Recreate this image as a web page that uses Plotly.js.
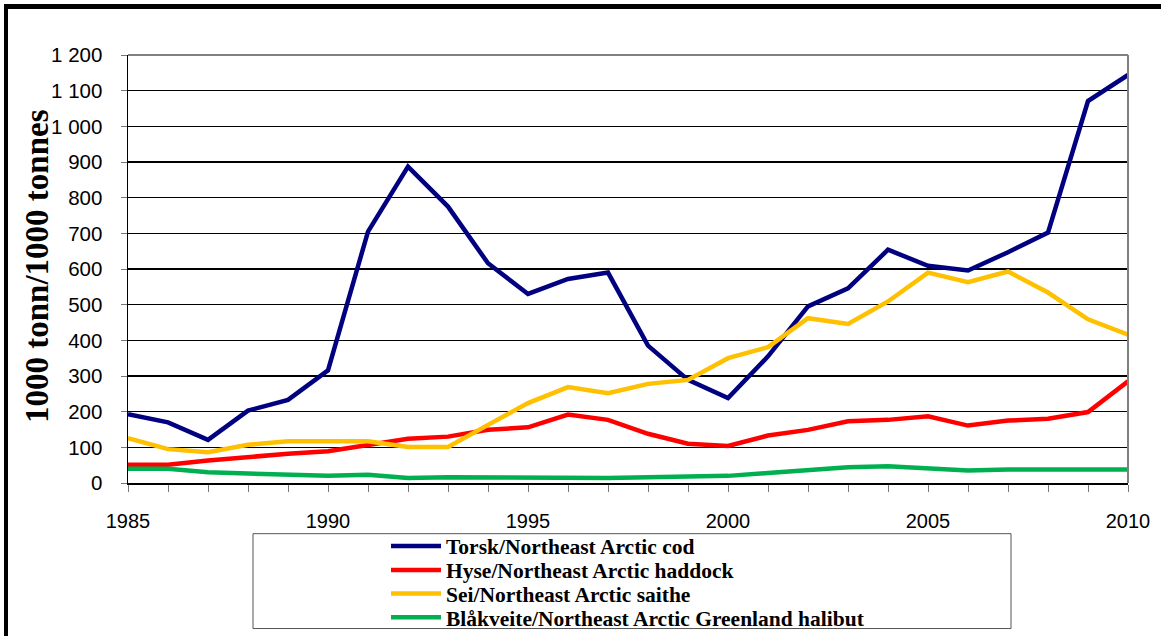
<!DOCTYPE html>
<html>
<head>
<meta charset="utf-8">
<script src="https://cdn.plot.ly/plotly-3.0.1.min.js"></script>
<style>
html,body{margin:0;padding:0;background:#fff;}
#chart{width:1161px;height:636px;}
</style>
</head>
<body>
<div id="chart"></div>
<script>
const years = [1985,1986,1987,1988,1989,1990,1991,1992,1993,1994,1995,1996,1997,1998,1999,2000,2001,2002,2003,2004,2005,2006,2007,2008,2009,2010];
const cod = [193,170,121,203,233,316,705,887,775,616,530,572,590,385,289,238,355,495,546,654,609,596,647,702,1071,1144];
const haddock = [51,51,63,73,82,89,107,124,130,149,156,192,177,138,110,104,133,149,173,177,187,161,175,180,199,285];
const saithe = [126,95,86,107,117,117,117,101,101,163,224,269,252,278,289,350,381,462,446,509,590,563,593,534,459,416];
const halibut = [40,40,30,27,23,20,23,14,16,15,14,14,14,16,17,20,28,37,44,47,42,35,38,38,38,38];
const seriesNames = [
  'Torsk/Northeast Arctic cod',
  'Hyse/Northeast Arctic haddock',
  'Sei/Northeast Arctic saithe',
  'Blåkveite/Northeast Arctic Greenland halibut'
];
const seriesColors = ['#000080','#FF0000','#FFC000','#00B050'];
const yTitle = '1000 tonn/1000 tonnes';

const allSeries = [cod, haddock, saithe, halibut];
const legendIds = ['legend','legend2','legend3','legend4'];
const traces = allSeries.map((vals, i) => ({
  x: years, y: vals, type: 'scatter', mode: 'lines', name: seriesNames[i],
  line: {color: seriesColors[i], width: 4.5},
  legend: legendIds[i], hoverinfo: 'x+y'
}));

// legend rows in container coordinates (fraction of 636 px height, from bottom)
const legendRowY = [1 - 546/636, 1 - 570/636, 1 - 593.5/636, 1 - 617.3/636];
const legendFont = {family: '"Liberation Serif", "Times New Roman", serif', size: 21.5, color: '#000', weight: 'bold'};
function mkLegend(i){
  return {xref: 'container', yref: 'container', x: 386/1161, y: legendRowY[i], xanchor: 'left', yanchor: 'middle',
    bgcolor: 'rgba(0,0,0,0)', borderwidth: 0, font: legendFont, itemwidth: 50, tracegroupgap: 0};
}

const layout = {
  width: 1161, height: 636,
  margin: {l: 128, r: 33, t: 55, b: 152.7, autoexpand: false},
  paper_bgcolor: '#fff', plot_bgcolor: '#fff',
  separators: ', ',
  showlegend: true,
  legend: mkLegend(0), legend2: mkLegend(1), legend3: mkLegend(2), legend4: mkLegend(3),
  xaxis: {
    range: [1985, 2010], tick0: 1985, dtick: 5, showgrid: false, zeroline: false,
    showline: true, linecolor: '#000', linewidth: 1.5,
    ticks: 'outside', ticklen: 7, tickcolor: '#777', tickwidth: 1,
    minor: {dtick: 1, ticks: 'outside', ticklen: 7, tickcolor: '#777', tickwidth: 1, showgrid: false},
    ticklabelstandoff: 12,
    tickfont: {family: '"Liberation Sans", Arial, sans-serif', size: 20, color: '#000'}
  },
  yaxis: {
    range: [0, 1200], dtick: 100, tick0: 0, separatethousands: true, tickformat: ',d',
    showgrid: true, gridcolor: '#000', gridwidth: 1.5, zeroline: false,
    showline: true, linecolor: '#000', linewidth: 1.5,
    ticks: 'outside', ticklen: 6, tickcolor: '#777', tickwidth: 1,
    ticklabelstandoff: 14,
    tickfont: {family: '"Liberation Sans", Arial, sans-serif', size: 20.5, color: '#000'}
  },
  annotations: [
    {text: yTitle, xref: 'paper', yref: 'paper', x: -0.091, y: 0.507, xanchor: 'center', yanchor: 'middle',
     textangle: -90, showarrow: false,
     font: {family: '"Liberation Serif", "Times New Roman", serif', size: 33, color: '#000', weight: 'bold'}}
  ],
  shapes: [
    {type: 'line', xref: 'paper', yref: 'paper', x0: 0, x1: 1, y0: 1, y1: 1, line: {color: '#808080', width: 2}},
    {type: 'line', xref: 'paper', yref: 'paper', x0: 1, x1: 1, y0: 0, y1: 1, line: {color: '#808080', width: 2}},
    {type: 'rect', xref: 'paper', yref: 'paper', x0: 0.125, x1: 0.883, y0: -0.340, y1: -0.1184, line: {color: '#555', width: 1}},
    {type: 'line', xref: 'paper', yref: 'paper', x0: -0.122, x1: -0.122, y0: -0.37, y1: 1.1185, line: {color: '#000', width: 4}},
    {type: 'line', xref: 'paper', yref: 'paper', x0: -0.124, x1: 1.04, y0: 1.1132, y1: 1.1132, line: {color: '#000', width: 5}}
  ]
};

Plotly.newPlot('chart', traces, layout, {displayModeBar: false, staticPlot: true});
</script>
</body>
</html>
